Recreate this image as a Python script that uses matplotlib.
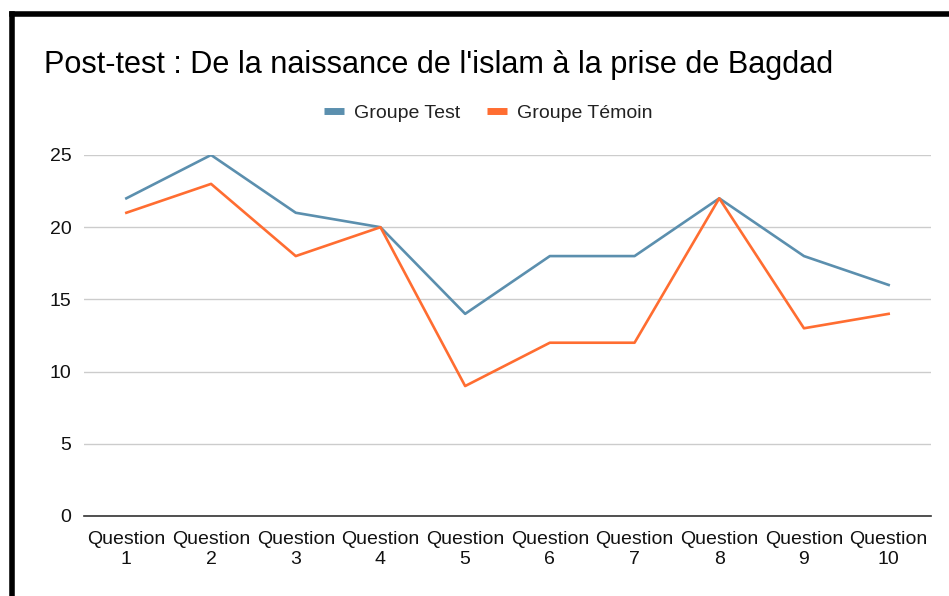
import matplotlib
matplotlib.use("Agg")
import matplotlib.pyplot as plt
from matplotlib.lines import Line2D

plt.rcParams["font.family"] = ["Liberation Sans", "DejaVu Sans"]

categories = ["Question\n1", "Question\n2", "Question\n3", "Question\n4", "Question\n5",
              "Question\n6", "Question\n7", "Question\n8", "Question\n9", "Question\n10"]
groupe_test = [22, 25, 21, 20, 14, 18, 18, 22, 18, 16]
groupe_temoin = [21, 23, 18, 20, 9, 12, 12, 22, 13, 14]
y_ticks = [0, 5, 10, 15, 20, 25]

W, H = 949, 596
fig = plt.figure(figsize=(W / 100, H / 100), dpi=100)
ax = fig.add_axes([84 / W, 1 - 516 / H, (931 - 84) / W, (516 - 155) / H])

x = list(range(len(categories)))
ax.plot(x, groupe_test, color="#5b8fae", lw=1.9, label="Groupe Test")
ax.plot(x, groupe_temoin, color="#ff6d31", lw=1.9, label="Groupe Témoin")

ax.set_xlim(-0.5, len(categories) - 0.5)
ax.set_ylim(0, 25)
ax.set_yticks(y_ticks)
ax.set_xticks(x)
ax.set_xticklabels(categories, fontsize=14, color="#111111", linespacing=1.28)
ax.tick_params(axis="y", labelsize=14, colors="#111111", length=0, pad=9)
ax.tick_params(axis="x", length=0, pad=10.5)
ax.grid(axis="y", color="#cccccc", lw=1)
ax.set_axisbelow(True)
for side in ["top", "right", "left"]:
    ax.spines[side].set_visible(False)
ax.spines["bottom"].set_color("#333333")
ax.spines["bottom"].set_linewidth(1.2)

fig.text(44 / W, 1 - 65 / H, "Post-test : De la naissance de l'islam à la prise de Bagdad",
         fontsize=22.1, color="#000000", va="center", ha="left")

fig.legend(handles=ax.get_lines(), loc="center", bbox_to_anchor=(488 / W, 1 - 113 / H),
           ncol=2, frameon=False, fontsize=14, handlelength=1.03, handleheight=0.5,
           columnspacing=1.4, handletextpad=0.5, labelcolor="#222222")
for h in fig.legends[0].get_lines():
    h.set_linewidth(5)
    h.set_solid_capstyle("butt")

# black frame on top and left edge
fig.add_artist(Line2D([12 / W, 1], [1 - 14 / H, 1 - 14 / H], color="black", lw=4, transform=fig.transFigure))
fig.add_artist(Line2D([12 / W, 12 / W], [0, 1 - 14 / H], color="black", lw=4, transform=fig.transFigure))

fig.savefig("out.png", dpi=100)
